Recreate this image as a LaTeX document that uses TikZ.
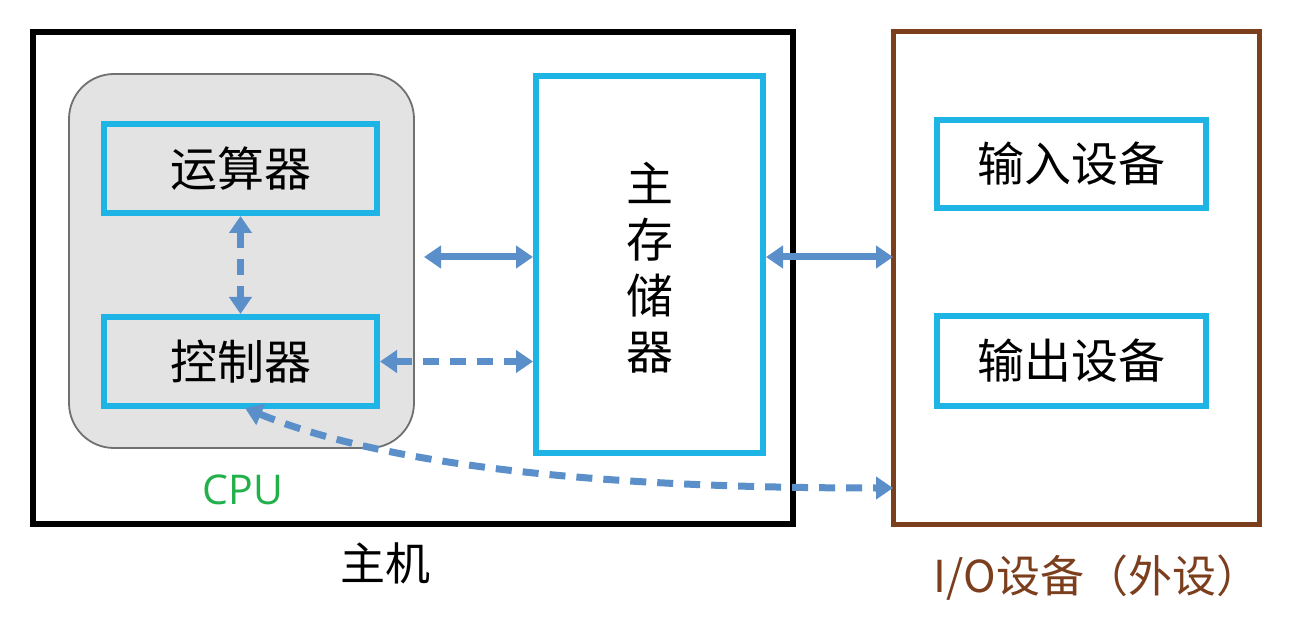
\documentclass[tikz,border=0pt]{standalone}
\usepackage{fontspec}
\setmainfont{Noto Sans CJK SC}
\newfontfamily\cjk{Noto Sans CJK SC}
\newfontfamily\latinsans{Open Sans}
\usetikzlibrary{arrows.meta}
\definecolor{cyanbox}{HTML}{1FB4E6}
\definecolor{arrowblue}{HTML}{5B8FC9}
\definecolor{iobrown}{HTML}{7B3F1E}
\definecolor{cpugray}{HTML}{E3E3E3}
\definecolor{cpuedge}{HTML}{707070}
\definecolor{cpugreen}{HTML}{22B04B}
\begin{document}
\begin{tikzpicture}[x=1pt,y=-1pt,
  unitbox/.style={draw=cyanbox,line width=6pt,fill=cpugray},
  plainbox/.style={draw=cyanbox,line width=6pt,fill=white},
  lbl/.style={font=\cjk\fontsize{47}{52}\selectfont,text=black},
  link/.style={draw=arrowblue,line width=7pt,{Triangle[width=22pt,length=17pt]}-{Triangle[width=22pt,length=17pt]}},
  dlink/.style={link,dash pattern=on 16pt off 11pt}
]
\useasboundingbox (0,0) rectangle (1302,644);
\fill[white] (0,0) rectangle (1302,644);
% host
\draw[line width=6.5pt,black] (33,32) rectangle (793,524);
\node[lbl,font=\cjk\fontsize{45}{50}\selectfont] (host) at (385,563) {主机};
% CPU
\draw[draw=cpuedge,line width=1.8pt,fill=cpugray,rounded corners=45pt] (69,74) rectangle (414,448);
\node[font=\latinsans\fontsize{41}{46}\selectfont,text=cpugreen] (cpu) at (243,490) {CPU};
\node[unitbox,minimum width=273pt,minimum height=89pt,lbl] (alu) at (240.5,168.5) {运算器};
\node[unitbox,minimum width=273pt,minimum height=89pt,lbl] (ctl) at (240.5,361.5) {控制器};
% memory
\node[plainbox,minimum width=227pt,minimum height=377pt] (mem) at (649.5,264.5) {};
\node[lbl,align=center,font=\cjk\fontsize{47}{56}\selectfont] (memtxt) at (649.5,268) {主\\存\\储\\器};
% IO
\draw[line width=5pt,iobrown] (893,32) rectangle (1259,524);
\node[lbl,font=\cjk\fontsize{44}{50}\selectfont,text=iobrown] (iolbl) at (1097,578) {I/O设备（外设）};
\node[plainbox,minimum width=269pt,minimum height=88pt,lbl] (in) at (1071.5,164) {输入设备};
\node[plainbox,minimum width=269pt,minimum height=90pt,lbl] (out) at (1071.5,361) {输出设备};
\coordinate (ioL1) at (893,257);
\coordinate (ioL2) at (893,488);
\coordinate (ctlB) at (245,408);
\coordinate (m1) at (424,257);
\coordinate (m1e) at (533,257);
% arrows
\draw[dlink] (alu.south) -- (ctl.north);
\draw[link] (m1) -- (m1e);
\draw[dlink] (ctl.east) -- (ctl.east -| mem.west);
\draw[link] (mem.east |- ioL1) -- (ioL1);
\draw[dlink] (ctlB) .. controls (420,480) and (700,488) .. (ioL2);
\end{tikzpicture}
\end{document}
